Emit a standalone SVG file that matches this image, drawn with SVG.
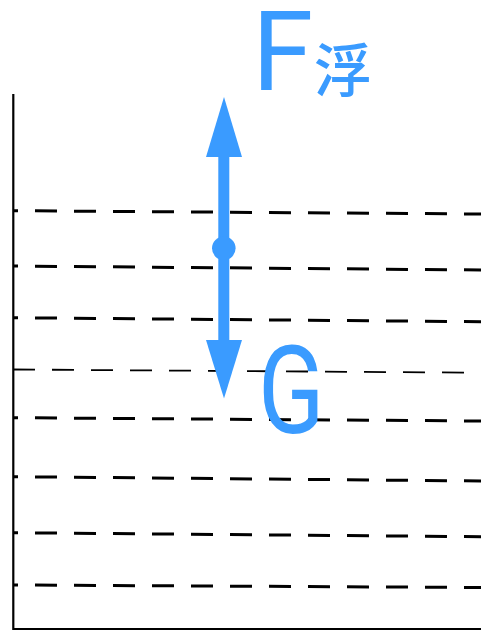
<svg xmlns="http://www.w3.org/2000/svg" width="481" height="630" viewBox="0 0 481 630">
<style>
.water{stroke:#000;stroke-width:3;stroke-dasharray:22 17;fill:none}
.thin{stroke-width:1.8}
.frame{stroke:#000;stroke-width:2.2;fill:none}
.blue{fill:#3a9bff}
.lbl{font-family:Roboto,"Noto Sans CJK SC",sans-serif;fill:#3a9bff}
</style>
<g id="container">
<path class="frame" d="M13.3 94 V629 H481"/>
</g>
<g id="water">
<line class="water" x1="13" y1="210.7" x2="481" y2="214" stroke-dashoffset="-22"/>
<line class="water" x1="13" y1="266" x2="481" y2="270" stroke-dashoffset="-22"/>
<line class="water" x1="13" y1="317.7" x2="481" y2="321.7" stroke-dashoffset="-22"/>
<line class="water thin" x1="13" y1="369.5" x2="481" y2="372.7" stroke-dasharray="20 17 13 17 22 17" stroke-dashoffset="0"/>
<line class="water" x1="13" y1="417.7" x2="481" y2="421" stroke-dashoffset="-22"/>
<line class="water" x1="13" y1="476.7" x2="481" y2="481" stroke-dashoffset="-22"/>
<line class="water" x1="13" y1="532.7" x2="481" y2="536.7" stroke-dashoffset="-22"/>
<line class="water" x1="13" y1="585" x2="481" y2="587.5" stroke-dashoffset="-22"/>
</g>
<g id="forces">
<rect class="blue" x="218.3" y="150" width="11" height="200"/>
<polygon class="blue" points="224,97 242,157 206,157"/>
<polygon class="blue" points="206,340 242,340 224,398.5"/>
<circle class="blue" cx="223.8" cy="248.3" r="11.8"/>
</g>
<g id="label-F">
<text class="lbl" x="252" y="90" font-size="111">F</text>
<text class="lbl" x="314" y="92" font-size="58" font-weight="500" font-family="'Noto Sans CJK SC',sans-serif">浮</text>
</g>
<g id="label-G">
<text class="lbl" x="0" y="0" font-size="122" transform="translate(258 433) scale(0.8 1)">G</text>
</g>
</svg>
